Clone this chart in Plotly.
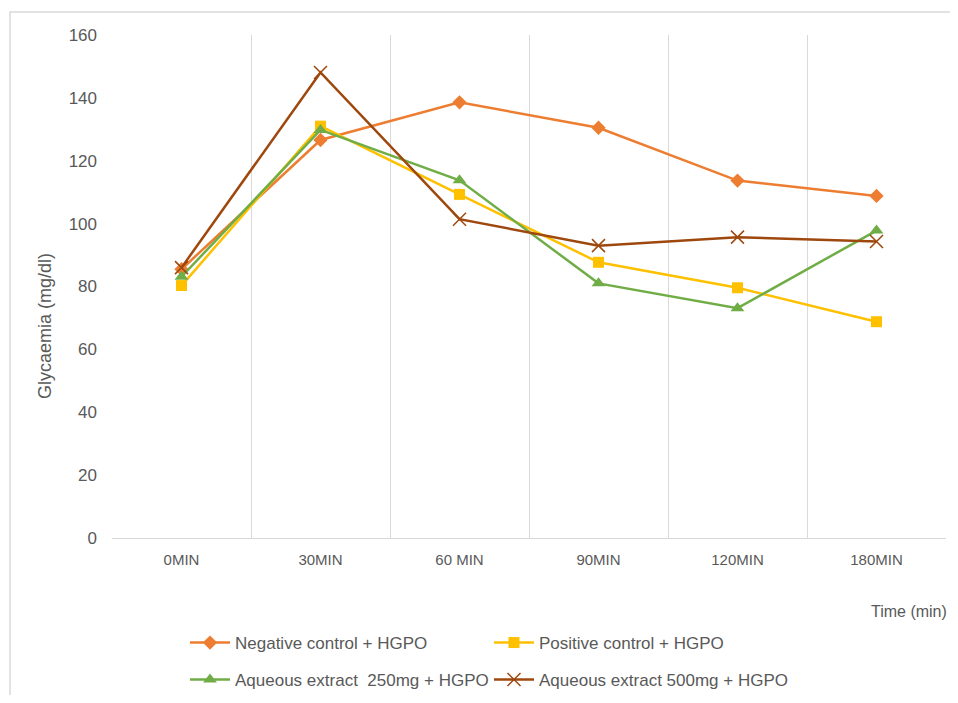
import plotly.graph_objects as go

times = ["0MIN", "30MIN", "60 MIN", "90MIN", "120MIN", "180MIN"]
negative_control = [85.5, 126.6, 138.6, 130.5, 113.7, 108.8]
positive_control = [80.3, 131.0, 109.3, 87.7, 79.6, 68.8]
extract_250 = [83.1, 129.8, 113.8, 81.0, 73.1, 97.8]
extract_500 = [86.0, 148.1, 101.4, 93.0, 95.7, 94.3]

names = ["Negative control + HGPO", "Positive control + HGPO",
         "Aqueous extract  250mg + HGPO", "Aqueous extract 500mg + HGPO"]

FONT = "Liberation Sans"
GREY_TXT = "#595959"

fig = go.Figure()
fig.add_trace(go.Scatter(x=times, y=negative_control, name=names[0], mode="lines+markers",
                         line=dict(color="#ED7D31", width=2.5),
                         marker=dict(symbol="diamond", size=11, color="#ED7D31"),
                         legend="legend"))
fig.add_trace(go.Scatter(x=times, y=positive_control, name=names[1], mode="lines+markers",
                         line=dict(color="#FFC000", width=2.5),
                         marker=dict(symbol="square", size=11, color="#FFC000"),
                         legend="legend"))
fig.add_trace(go.Scatter(x=times, y=extract_250, name=names[2], mode="lines+markers",
                         line=dict(color="#70AD47", width=2.5),
                         marker=dict(symbol="triangle-up", size=12, color="#70AD47"),
                         legend="legend2"))
fig.add_trace(go.Scatter(x=times, y=extract_500, name=names[3], mode="lines+markers",
                         line=dict(color="#9E480E", width=2.5),
                         marker=dict(symbol="x-thin-open", size=13,
                                     line=dict(color="rgba(158,72,14,0.65)", width=1.5)),
                         legend="legend2"))

legend_common = dict(orientation="h", xanchor="left", yanchor="middle",
                     font=dict(family=FONT, size=17, color=GREY_TXT),
                     itemwidth=40,
                     entrywidth=249, entrywidthmode="pixels",
                     bgcolor="rgba(0,0,0,0)", itemclick=False)

fig.update_layout(
    width=942, height=687,
    margin=dict(l=104, r=4, t=27, b=157, autoexpand=False),
    paper_bgcolor="white", plot_bgcolor="white",
    showlegend=True,
    legend=dict(x=(185 - 112) / 834, y=(538 - 643) / 503, **legend_common),
    legend2=dict(x=(185 - 112) / 834, y=(538 - 680) / 503, **legend_common),
    xaxis=dict(type="category", range=[-0.5, 5.5], tickson="boundaries",
               showgrid=True, gridcolor="#d9d9d9", gridwidth=1,
               showline=True, linecolor="#d9d9d9", linewidth=1,
               ticks="", zeroline=False, ticklabelstandoff=8,
               tickfont=dict(family=FONT, size=15, color=GREY_TXT)),
    yaxis=dict(range=[0, 160], dtick=20, showgrid=False, zeroline=False,
               showline=False, ticks="", ticklabelstandoff=14,
               tickfont=dict(family=FONT, size=17, color=GREY_TXT)),
    annotations=[
        dict(text="Glycaemia (mg/dl)", xref="paper", yref="paper",
             x=(45 - 112) / 834, y=(538 - 326) / 503, textangle=-90,
             showarrow=False, xanchor="center", yanchor="middle",
             font=dict(family=FONT, size=18, color=GREY_TXT)),
        dict(text="Time (min)", xref="paper", yref="paper",
             x=(949 - 112) / 834, y=(538 - 612) / 503,
             showarrow=False, xanchor="right", yanchor="middle",
             font=dict(family=FONT, size=16, color=GREY_TXT)),
    ],
    shapes=[
        dict(type="rect", xref="paper", yref="paper",
             x0=(10 - 112) / 834, x1=(975 - 112) / 834,
             y0=(538 - 720) / 503, y1=(538 - 12) / 503,
             line=dict(color="#d9d9d9", width=1.5), layer="below"),
    ],
)

fig.write_html("out.html")
